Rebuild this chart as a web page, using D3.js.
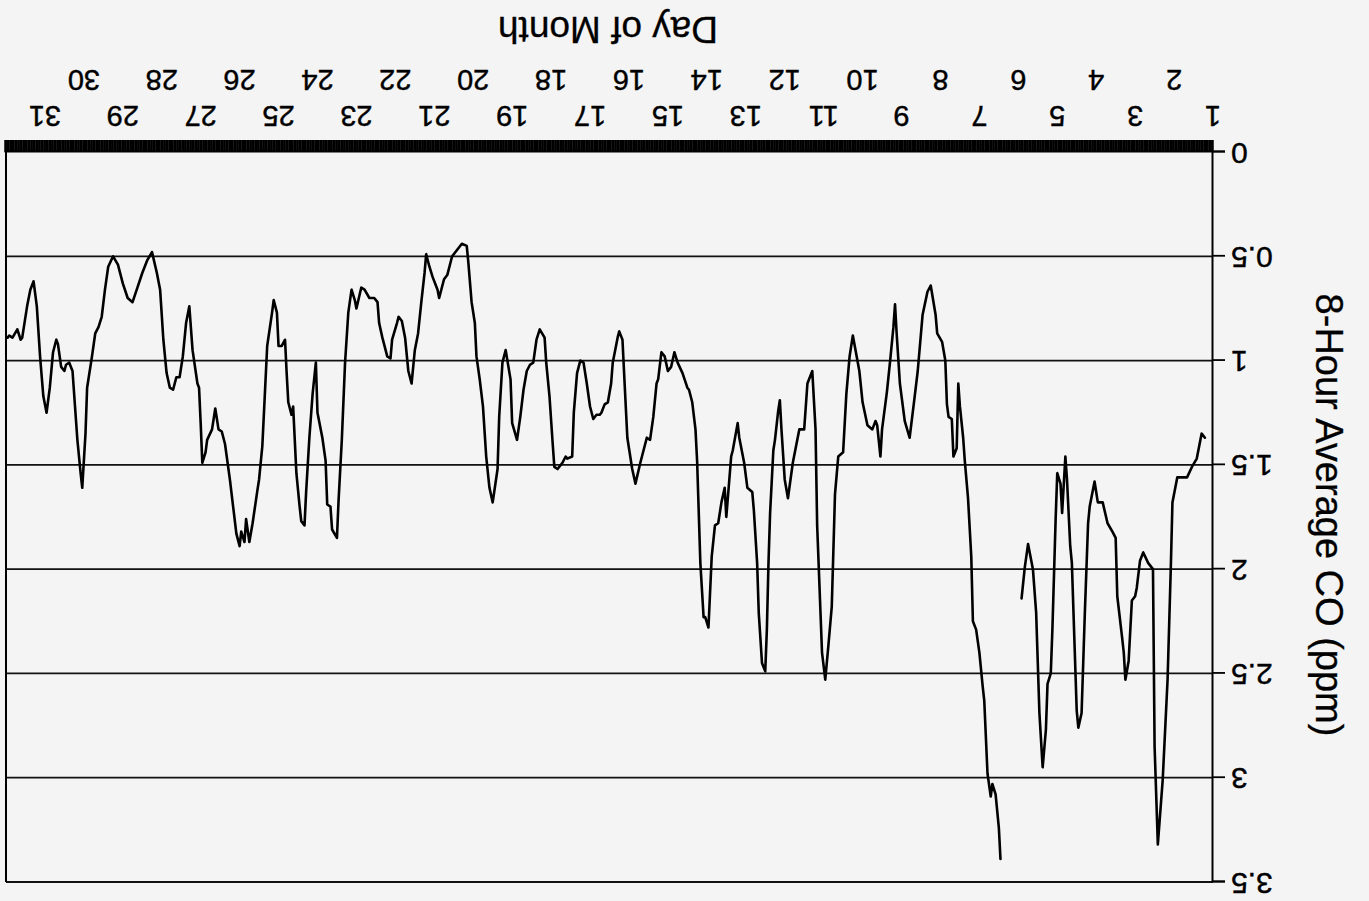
<!DOCTYPE html>
<html>
<head>
<meta charset="utf-8">
<script src="https://cdn.jsdelivr.net/npm/d3@7"></script>
<style>
  html, body { margin: 0; padding: 0; background: #f4f4f4; }
  svg { display: block; }
  text { font-family: "Liberation Sans", Arial, sans-serif; fill: #000; }
</style>
</head>
<body>
<svg id="chart" width="1369" height="901"></svg>
<script>
// ---- Data (hours since start of day 1, 8-hour average CO in ppm) ----
const hoursA = [5,7,10,13,16,19,22,25,26,28,31,34,36,37,40,43,45,47,48,50,52,54,55,56,59,60,62,65,68,71,73,76,77,79,81,83,84,87,88,90,91,93,94,96,97,99,100,102,103,105,107,109,111,114,116,118];
const coA    = [1.37,1.35,1.47,1.51,1.56,1.56,1.56,1.68,1.99,2.53,3.01,3.32,2.85,2.00,1.97,1.92,1.96,2.09,2.13,2.15,2.44,2.53,2.40,2.33,2.13,1.85,1.82,1.78,1.68,1.68,1.58,1.70,1.78,2.21,2.69,2.76,2.68,1.97,1.89,1.57,1.46,1.73,1.59,1.54,1.76,2.29,2.50,2.55,2.77,2.95,2.69,2.21,2.00,1.88,1.99,2.14];

const hoursB = [131,132,134,136,137,139,141,142,144,146,148,149,151,153,154,156,157,158,160,161,163,164,165,167,170,171,174,176,179,182,184,187,190,193,195,196,197,199,201,204,205,207,208,210,213,216,218,222,224,226,228,231,233,235,237,239,241,244,245,247,250,252,255,256,259,262,264,266,267,268,270,271,273,274,275,276,278,280,281,283,284,287,289,292,293,296,297,300,301,303,305,307,309,311,313,314,316,318,319,321,323,324,327,330,332,334,336,338,340,342,343,345,347,349,351,353,356,358,361,363,364,366,367,370,371,373,375,377,378,380,382,384,386,388,390,392,394,395,398,399,401,404,406,407,409,411,412,415,417,419,421,423,425,427,429,432,433,436,438,440,441,444,446,448,450,452,454,455,457,459,460,463,466,469,470,472,474,477,478,481,483,485,486,488,490,492,494,496,498,500,502,503,506,507,509,512,514,515,517,520,523,525,528,529,531,533,535,537,539,540,543,544,546,547,549,552,553,555,557,559,560,562,563,565,567,568,570,571,572,574,576,577,579,580,583,584,586,588,589,592,594,596,597,599,600,602,604,606,609,611,613,615,617,620,621,623,624,625,626,629,631,633,635,637,639,641,643,645,647,649,651,654,657,660,663,666,669,672,675,678,681,683,685,687,689,691,694,695,697,698,700,703,705,707,708,710,712,713,715,717,719,721,723,725,727,729,731,734,735,737,740,742,743];
const coB    = [3.39,3.24,3.08,3.03,3.09,2.98,2.63,2.56,2.40,2.29,2.25,1.94,1.66,1.48,1.37,1.22,1.11,1.42,1.46,1.28,1.27,1.21,1.00,0.91,0.87,0.78,0.64,0.67,0.78,1.05,1.18,1.37,1.29,1.11,0.87,0.73,0.84,1.00,1.15,1.33,1.46,1.31,1.29,1.33,1.31,1.20,1.05,0.88,0.98,1.16,1.44,1.46,1.64,2.18,2.36,2.53,2.40,1.79,1.33,1.05,1.11,1.33,1.33,1.37,1.49,1.66,1.57,1.33,1.19,1.24,1.38,1.43,1.73,1.97,2.29,2.49,2.45,2.21,1.97,1.72,1.63,1.61,1.49,1.37,1.30,1.43,1.46,1.75,1.61,1.68,1.78,1.79,1.94,2.28,2.23,2.23,1.97,1.48,1.33,1.20,1.14,1.13,1.06,1.01,0.96,1.03,1.05,0.98,0.96,1.09,1.11,1.27,1.38,1.37,1.43,1.49,1.59,1.52,1.37,1.06,0.90,0.86,0.89,1.01,1.11,1.20,1.21,1.25,1.26,1.26,1.28,1.22,1.11,1.01,1.00,1.06,1.25,1.46,1.47,1.46,1.49,1.52,1.51,1.40,1.17,1.01,0.89,0.85,0.90,1.01,1.02,1.05,1.14,1.27,1.38,1.30,1.09,0.95,1.01,1.27,1.52,1.68,1.61,1.46,1.22,1.09,0.98,0.82,0.72,0.53,0.45,0.44,0.47,0.50,0.53,0.59,0.61,0.70,0.66,0.60,0.55,0.49,0.58,0.72,0.87,0.95,1.11,1.05,0.89,0.81,0.79,0.82,0.90,0.99,0.98,0.89,0.82,0.72,0.70,0.70,0.66,0.65,0.75,0.71,0.66,0.77,1.01,1.38,1.67,1.85,1.81,1.70,1.69,1.48,1.37,1.25,1.01,1.16,1.37,1.63,1.79,1.77,1.70,1.54,1.22,1.26,1.20,1.06,0.90,0.93,0.93,0.77,0.71,0.77,0.93,1.09,1.41,1.57,1.62,1.78,1.87,1.76,1.87,1.82,1.89,1.83,1.70,1.57,1.40,1.34,1.33,1.23,1.33,1.38,1.44,1.49,1.30,1.13,1.11,0.95,0.74,0.82,0.98,1.08,1.08,1.14,1.13,1.06,0.90,0.66,0.58,0.48,0.52,0.58,0.65,0.72,0.70,0.63,0.54,0.50,0.55,0.66,0.79,0.84,0.87,0.98,1.13,1.35,1.61,1.54,1.38,1.05,1.01,1.02,1.05,1.03,0.92,0.90,0.96,1.13,1.25,1.17,0.98,0.74,0.62,0.66,0.74,0.89,0.90,0.85,0.89,0.88,0.89];

const days = d3.range(1, 32);                 // tick labels: days 1..31
const yTicks = [0, 0.5, 1, 1.5, 2, 2.5, 3, 3.5];
const xTitle = "Day of Month";
const yTitle = "8-Hour Average CO (ppm)";

// ---- Layout ----
const W = 1369, H = 901;
const svg = d3.select("#chart");
svg.append("rect").attr("width", W).attr("height", H).attr("fill", "#f4f4f4");

// The reference is scanned upside-down: draw a normal chart, then rotate 180°.
const g = svg.append("g").attr("transform", `rotate(180 ${W/2} ${H/2})`);

const x = d3.scaleLinear().domain([0, 744]).range([156, 1363]);
const y = d3.scaleLinear().domain([0, 3.5]).range([749, 19]);

// Horizontal gridlines
g.append("g").selectAll("line").data(yTicks.filter(v => v > 0)).join("line")
  .attr("x1", x(0)).attr("x2", x(744))
  .attr("y1", d => y(d)).attr("y2", d => y(d))
  .attr("stroke", "#111").attr("stroke-width", 1.8);

// Right frame
g.append("line").attr("x1", x(744)).attr("x2", x(744)).attr("y1", y(0)).attr("y2", y(3.5))
  .attr("stroke", "#000").attr("stroke-width", 2);

// X axis: hourly ticks forming a dense band
const xAxisHours = d3.axisBottom(x).tickValues(d3.range(0, 745)).tickSize(12).tickFormat("");
const xa = g.append("g").attr("transform", `translate(0,${y(0)})`).call(xAxisHours);
xa.selectAll("line").attr("stroke", "#000").attr("stroke-width", 2);
xa.select(".domain").attr("stroke", "#000").attr("stroke-width", 2);

// Day labels: odd days in first row, even days in second row
g.append("g").selectAll("text").data(days).join("text")
  .attr("x", d => x((d - 1) * 24))
  .attr("y", d => d % 2 === 1 ? 795 : 831)
  .attr("text-anchor", "middle")
  .attr("font-size", 29)
  .attr("stroke", "#000").attr("stroke-width", 0.4)
  .text(d => d);

// Y axis
const yAxis = d3.axisLeft(y).tickValues(yTicks).tickSize(12).tickPadding(6).tickFormat(d3.format("~g"));
const ya = g.append("g").attr("transform", `translate(${x(0)},0)`).call(yAxis);
ya.select(".domain").attr("stroke", "#000").attr("stroke-width", 2);
ya.selectAll("line").attr("stroke", "#000").attr("stroke-width", 1.8);
ya.selectAll("text").attr("font-size", 30).attr("font-family", "Liberation Sans, Arial, sans-serif")
  .attr("fill", "#000").attr("stroke", "#000").attr("stroke-width", 0.4).attr("dy", "0.3em");

// Data line (two segments, gap on day 6)
const line = d3.line().x(d => x(d[0])).y(d => y(d[1])).curve(d3.curveLinear);
const segA = hoursA.map((h, i) => [h, coA[i]]);
const segB = hoursB.map((h, i) => [h, coB[i]]);
g.append("g").selectAll("path").data([segA, segB]).join("path")
  .attr("d", line)
  .attr("fill", "none").attr("stroke", "#000").attr("stroke-width", 2.6)
  .attr("stroke-linejoin", "round").attr("stroke-linecap", "round");

// Titles
g.append("text").attr("x", 761).attr("y", 884).attr("text-anchor", "middle")
  .attr("font-size", 37).attr("stroke", "#000").attr("stroke-width", 0.3).text(xTitle);
g.append("text").attr("transform", "translate(53,386) rotate(-90)")
  .attr("text-anchor", "middle").attr("font-size", 38).attr("stroke", "#000").attr("stroke-width", 0.3).text(yTitle);
</script>
</body>
</html>
